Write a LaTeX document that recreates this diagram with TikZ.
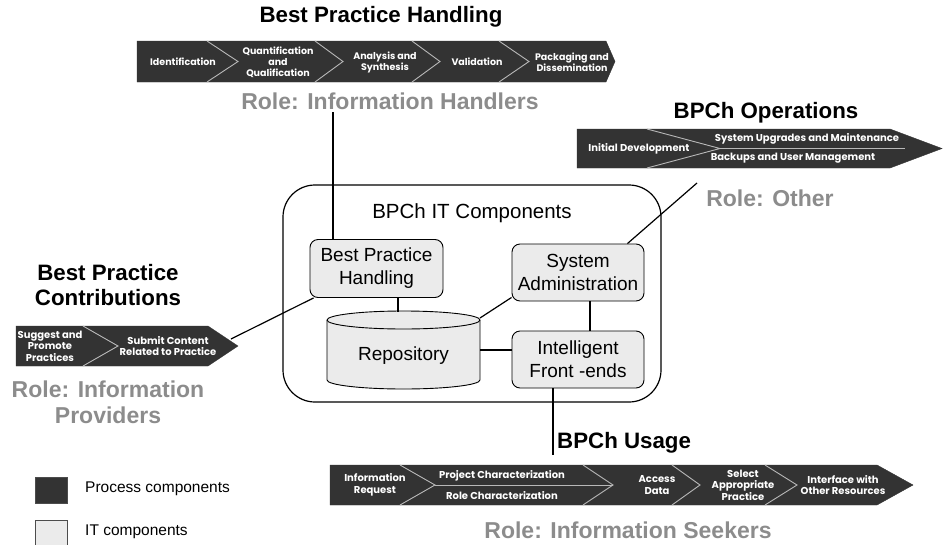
\documentclass[tikz,border=0pt]{standalone}
\usepackage{fontspec}
\setmainfont{Liberation Sans}
\newfontfamily\barfont{Poppins}
\usetikzlibrary{calc}

\definecolor{bardark}{HTML}{333333}
\definecolor{divline}{HTML}{B8B8B8}
\definecolor{rolegray}{HTML}{8C8C8C}
\definecolor{itfill}{HTML}{EBEBEB}

\tikzset{
  bartext/.style={text=white, align=center, inner sep=0pt,
    font=\barfont\bfseries\fontsize{9.5}{11}\selectfont},
  bigbartext/.style={bartext, font=\barfont\bfseries\fontsize{10}{11.5}\selectfont},
  headtext/.style={align=center, inner sep=0pt,
    font=\bfseries\fontsize{22.3}{25}\selectfont},
  roletext/.style={align=center, inner sep=0pt, text=rolegray,
    font=\bfseries\fontsize{23}{26}\selectfont},
  procbar/.style={fill=bardark, draw=bardark},
  divider/.style={draw=divline, line width=0.9pt},
  itbox/.style={draw=black, fill=itfill, rounded corners=8pt, line width=0.9pt,
    align=center, inner sep=0pt, font=\fontsize{19}{23}\selectfont},
  link/.style={draw=black, line width=1.2pt},
}

\begin{document}
\begin{tikzpicture}[x=1pt, y=-1pt]
\useasboundingbox (0,0) rectangle (943,544);

% ---------------- Best Practice Handling ----------------
\node[headtext] (hTitle) at (381,17) {Best Practice Handling};
\path[procbar] (137,41) -- (606,41) -- (615,61.5) -- (606,82) -- (137,82) -- cycle;
\draw[divider] (207,41) -- (238,61.5) -- (207,82);
\draw[divider] (315,41) -- (343,61.5) -- (315,82);
\draw[divider] (412,41) -- (440,61.5) -- (412,82);
\draw[divider] (499,41) -- (529,61.5) -- (499,82);
\node[bartext] (h1) at (183,62) {Identification};
\node[bartext] (h2) at (278,62) {Quantification\\and\\Qualification};
\node[bartext] (h3) at (385,62) {Analysis and\\Synthesis};
\node[bartext] (h4) at (477,62) {Validation};
\node[bartext] (h5) at (572,62) {Packaging and\\Dissemination};
\node[roletext] (hRole) at (390,101) {Role: Information Handlers};
\coordinate (hEnd) at (333,112);

% ---------------- BPCh Operations ----------------
\node[headtext] (oTitle) at (766,113) {BPCh Operations};
\path[procbar] (577,129) -- (890,129) -- (942,148.5) -- (890,168) -- (577,168) -- cycle;
\draw[divider] (647,129) -- (720,148.5) -- (647,168);
\draw[divider] (720,148.5) -- (905,148.5);
\node[bigbartext] (o1) at (639,148.5) {Initial Development};
\node[bigbartext] (o2) at (807,139) {System Upgrades and Maintenance};
\node[bigbartext] (o3) at (793,158.5) {Backups and User Management};
\node[roletext] (oRole) at (770,198) {Role: Other};
\coordinate (oEnd) at (697,183);

% ---------------- Best Practice Contributions ----------------
\node[headtext] (cTitle) at (108,285) {Best Practice\\Contributions};
\path[procbar] (16,326) -- (208,326) -- (238,346) -- (208,366) -- (16,366) -- cycle;
\draw[divider] (83,326) -- (118,346) -- (83,366);
\node[bigbartext] (c1) at (50,346) {Suggest and\\Promote\\Practices};
\node[bigbartext] (c2) at (168,346) {Submit Content\\Related to Practice};
\node[roletext] (cRole) at (108,402) {Role: Information\\Providers};
\coordinate (cEnd) at (231,339);

% ---------------- BPCh Usage ----------------
\node[headtext, anchor=west] (uTitle) at (557,443) {BPCh Usage};
\path[procbar] (330,465) -- (877,465) -- (913,485) -- (877,505) -- (330,505) -- cycle;
\draw[divider] (400,465) -- (435,485) -- (400,505);
\draw[divider] (435,485) -- (613,485);
\draw[divider] (583,465) -- (613,485) -- (583,505);
\draw[divider] (672,465) -- (700,485) -- (672,505);
\draw[divider] (765,465) -- (797,485) -- (765,505);
\node[bigbartext] (u1) at (375,485) {Information\\Request};
\node[bigbartext] (u2) at (502,476) {Project Characterization};
\node[bigbartext] (u3) at (502,496) {Role Characterization};
\node[bigbartext] (u4) at (657,485) {Access\\Data};
\node[bigbartext] (u5) at (743,485) {Select\\Appropriate\\Practice};
\node[bigbartext] (u6) at (843,485) {Interface with\\Other Resources};
\node[roletext] (uRole) at (628,530) {Role: Information Seekers};
\coordinate (uEnd) at (553,455);

% ---------------- BPCh IT Components ----------------
\draw[line width=1.2pt, rounded corners=32pt] (283,185) rectangle (661,402);
\node[inner sep=0pt, font=\fontsize{20.5}{24}\selectfont] (itTitle) at (472,213) {BPCh IT Components};

\node[itbox, minimum width=133pt, minimum height=58pt] (bph) at (376.5,268.5) {Best Practice\\Handling};
\node[itbox, minimum width=132pt, minimum height=57pt] (sa) at (578,272.5) {System\\Administration};
\node[itbox, minimum width=132pt, minimum height=57pt] (fe) at (578,359.5) {Intelligent\\Front -ends};

% repository drum
\path[draw=black, fill=itfill, line width=0.9pt]
  (327,320) -- (327,380)
  arc[start angle=180, end angle=360, x radius=76.5pt, y radius=9pt]
  -- (480,320)
  arc[start angle=0, end angle=180, x radius=76.5pt, y radius=9pt] -- cycle;
\draw[line width=0.9pt] (480,320)
  arc[start angle=0, end angle=-180, x radius=76.5pt, y radius=9pt];
\node[inner sep=0pt, font=\fontsize{19}{23}\selectfont] (repo) at (403.5,356) {Repository};
\coordinate (repoTop) at (398,311.5);
\coordinate (repoNE) at (480,318);
\coordinate (repoE) at (480,350);

% ---------------- connectors ----------------
\draw[link] (bph.north -| hEnd) -- (hEnd);
\draw[link] ($(bph.south west)+(4,0)$) -- (cEnd);
\draw[link] ($(sa.north east)+(-17,0)$) -- (oEnd);
\draw[link] ($(fe.south)+(-25,0)$) -- (uEnd);
\draw[link] ($(bph.east)+(0,-4)$) -- ($(bph.east)+(0,-4)$ -| sa.west);
\draw[link] (bph.south -| repoTop) -- (repoTop);
\draw[link] (repoNE) -- ($(sa.south west)+(0,-4)$);
\draw[link] ($(sa.south)+(12,0)$) -- ($(fe.north)+(12,0)$);
\draw[link] (repoE) -- (repoE -| fe.west);

% ---------------- legend ----------------
\node[draw=black!70, fill=bardark, minimum width=32pt, minimum height=26pt, inner sep=0pt] (keyProc) at (51,490) {};
\node[draw=black!70, fill=itfill, minimum width=32pt, minimum height=26pt, inner sep=0pt] (keyIT) at (51,533) {};
\node[anchor=west, inner sep=0pt, font=\fontsize{15.5}{18}\selectfont] (keyProcT) at (85,489) {Process components};
\node[anchor=west, inner sep=0pt, font=\fontsize{15.5}{18}\selectfont] (keyITT) at (85,532) {IT components};
\end{tikzpicture}
\end{document}
